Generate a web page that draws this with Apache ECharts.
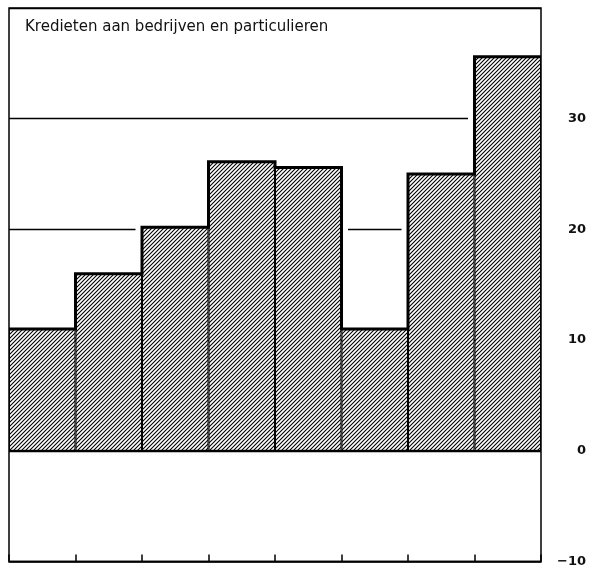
<!DOCTYPE html>
<html><head><meta charset="utf-8">
<script src="https://cdn.jsdelivr.net/npm/echarts@6/dist/echarts.min.js"></script>
<style>html,body{margin:0;padding:0;background:#fff}#c{width:603px;height:568px}</style>
</head><body><div id="c"></div>
<script>
const chartTitle = 'Kredieten aan bedrijven en particulieren';
const categories = ['P1', 'P2', 'P3', 'P4', 'P5', 'P6', 'P7', 'P8'];
const values = [11, 16, 20.2, 26.1, 25.6, 11, 25, 35.6];
const yMin = -10, yMax = 40, yStep = 10;
const hiddenTickLabels = [40];

function hatch() {
  const p = 4;
  const c = document.createElement('canvas');
  c.width = p; c.height = p;
  const g = c.getContext('2d');
  g.fillStyle = '#fff'; g.fillRect(0, 0, p, p);
  g.strokeStyle = '#000'; g.lineWidth = 1.1;
  g.beginPath();
  g.moveTo(-1, p + 1); g.lineTo(p + 1, -1);
  g.moveTo(-1, 1); g.lineTo(1, -1);
  g.moveTo(p - 1, p + 1); g.lineTo(p + 1, p - 1);
  g.stroke();
  return c;
}

const stepData = values.map((v, i) => [i, v]).concat([[values.length, values[values.length - 1]]]);

const chart = echarts.init(document.getElementById('c'), null, {renderer: 'canvas'});
chart.setOption({
  animation: false,
  backgroundColor: '#fff',
  title: {
    text: chartTitle, left: 20, top: 15,
    textStyle: {fontFamily: 'DejaVu Sans', fontSize: 15, fontWeight: 'normal', color: '#111'}
  },
  grid: {left: 9, right: 62, top: 8, bottom: 5, show: true, borderColor: '#000', borderWidth: 1.5, z: 10, backgroundColor: 'transparent'},
  xAxis: [
    {type: 'category', data: categories, position: 'bottom', boundaryGap: true,
     axisLine: {onZero: false, lineStyle: {color: '#000', width: 1.5}},
     axisTick: {show: true, inside: true, length: 7, lineStyle: {color: '#000', width: 1.5}},
     axisLabel: {show: false}, splitLine: {show: false}},
    {type: 'value', min: 0, max: values.length, show: false}
  ],
  yAxis: [{
    type: 'value', position: 'right', min: yMin, max: yMax, interval: yStep,
    axisLine: {show: false}, axisTick: {show: false},
    splitLine: {show: true, lineStyle: {color: '#000', width: 1.3}},
    axisLabel: {
      margin: 45, align: 'right', fontFamily: 'DejaVu Sans', fontSize: 13, fontWeight: 'bold', color: '#111',
      formatter: v => hiddenTickLabels.includes(v) ? '' : (v < 0 ? '\u2212' + Math.abs(v) : String(v))
    }
  }],
  series: [
    {type: 'line', xAxisIndex: 1, data: stepData, step: 'end', symbol: 'none', silent: true,
     lineStyle: {color: '#fff', width: 13}, z: 2},
    {type: 'bar', xAxisIndex: 0, data: values, barCategoryGap: '0%', silent: true,
     itemStyle: {color: {image: hatch(), repeat: 'repeat'}, borderColor: '#000', borderWidth: 1}, z: 3},
    {type: 'line', xAxisIndex: 1, data: stepData, step: 'end', symbol: 'none', silent: true,
     lineStyle: {color: '#000', width: 3, join: 'miter'}, z: 4,
     markLine: {silent: true, symbol: ['none', 'none'], label: {show: false},
       lineStyle: {color: '#000', width: 2, type: 'solid'}, data: [{yAxis: 0}]}}
  ]
});
</script></body></html>
